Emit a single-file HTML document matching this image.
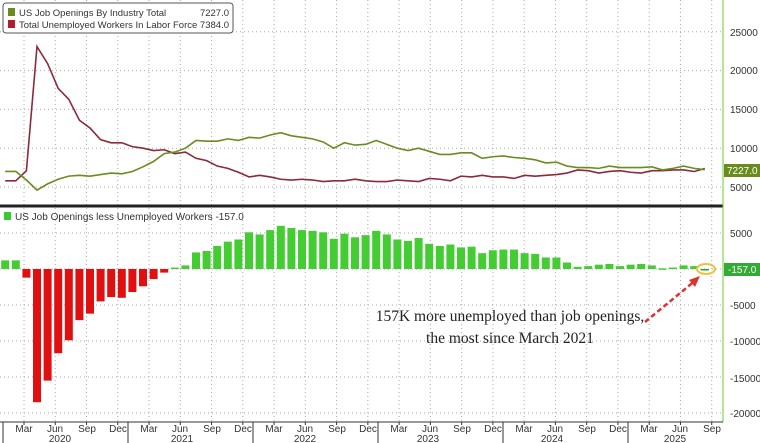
<!DOCTYPE html>
<html><head><style>
body{margin:0;background:#fff;}
svg{display:block;font-family:"Liberation Sans",sans-serif;}
</style></head><body>
<svg id="c" width="760" height="443" viewBox="0 0 760 443" xmlns="http://www.w3.org/2000/svg">
<rect width="760" height="443" fill="#fff"/>
<g id="grid" stroke="#aaa" stroke-width="1" stroke-dasharray="1,3"></g>
<g id="bars"></g>
<polyline id="lu" fill="none" stroke="#8b2a3a" stroke-width="1.6"/>
<polyline id="lo" fill="none" stroke="#6a8c1f" stroke-width="1.6"/>
<line x1="0" y1="206" x2="723" y2="206" stroke="#222" stroke-width="3"/>
<line x1="723" y1="0" x2="723" y2="422" stroke="#6c3" stroke-width="1"/>
<line x1="0" y1="422" x2="723" y2="422" stroke="#333" stroke-width="1"/>
<g font-size="10" fill="#333">
<text x="730" y="36">25000</text><text x="730" y="74">20000</text><text x="730" y="113">15000</text><text x="730" y="152">10000</text><text x="730" y="191">5000</text>
<text x="730" y="237">5000</text><text x="730" y="309">-5000</text><text x="730" y="345">-10000</text><text x="730" y="382">-15000</text><text x="730" y="417">-20000</text>
</g>
<rect x="724" y="164" width="36" height="13" fill="#6a8c1f"/>
<text x="727" y="174" font-size="10" fill="#fff">7227.0</text>
<rect x="724" y="263" width="36" height="13" fill="#3a3"/>
<text x="728" y="273" font-size="10" fill="#fff">-157.0</text>
<rect x="3" y="3" width="230" height="30" rx="3" fill="#fff" stroke="#555"/>
<rect x="8" y="8" width="7" height="8" fill="#6a8c1f"/><rect x="8" y="20" width="7" height="8" fill="#b01c2e"/>
<g font-size="9.5" fill="#333">
<text x="19" y="16">US Job Openings By Industry Total</text><text x="229" y="16" text-anchor="end">7227.0</text>
<text x="19" y="28">Total Unemployed Workers In Labor Force 7384.0</text>
<rect x="4" y="212" width="7" height="8" fill="#3c3"/>
<text x="15" y="220" font-size="10">US Job Openings less Unemployed Workers -157.0</text>
</g>
<ellipse cx="706" cy="269" rx="9" ry="5" fill="none" stroke="#f0c040" stroke-width="2"/>
<line x1="645" y1="322" x2="696" y2="280" stroke="#e03030" stroke-width="2.5" stroke-dasharray="5,3"/>
<polygon points="700,276 689,280 695,287" fill="#e03030"/>
<g font-family="Liberation Serif,serif" font-size="15.5" fill="#222" text-anchor="middle">
<text x="510" y="321">157K more unemployed than job openings,</text>
<text x="510" y="343">the most since March 2021</text>
</g>
<g font-size="10" fill="#333" text-anchor="middle">
<text x="24" y="432">Mar</text><text x="55" y="432">Jun</text><text x="87" y="432">Sep</text><text x="118" y="432">Dec</text>
<text x="149" y="432">Mar</text><text x="180" y="432">Jun</text><text x="212" y="432">Sep</text><text x="243" y="432">Dec</text>
<text x="274" y="432">Mar</text><text x="305" y="432">Jun</text><text x="337" y="432">Sep</text><text x="368" y="432">Dec</text>
<text x="399" y="432">Mar</text><text x="430" y="432">Jun</text><text x="462" y="432">Sep</text><text x="493" y="432">Dec</text>
<text x="524" y="432">Mar</text><text x="555" y="432">Jun</text><text x="587" y="432">Sep</text><text x="618" y="432">Dec</text>
<text x="649" y="432">Mar</text><text x="680" y="432">Jun</text><text x="712" y="432">Sep</text>
<text x="60" y="442">2020</text><text x="182" y="442">2021</text><text x="305" y="442">2022</text><text x="428" y="442">2023</text><text x="552" y="442">2024</text><text x="675" y="442">2025</text>
</g>
</svg>
<script>
var NS="http://www.w3.org/2000/svg";
function X(i){return 37+10.6*(i-3);}
function YT(v){return 187-(v-5000)*0.00776;}
function YB(v){return 269-v*0.0072;}
var o=[7000,7000,5900,4600,5400,6000,6400,6500,6400,6600,6800,6700,7000,7600,8300,9300,9500,10000,11000,10900,10900,11200,11000,11400,11300,11700,12000,11600,11400,11200,10800,10000,10700,10400,10500,11000,10500,10000,9700,10000,9600,9200,9200,9400,9400,8700,8900,9000,8800,8700,8500,8100,8200,7700,7500,7500,7400,7700,7500,7500,7500,7600,7200,7400,7700,7400,7227];
var u=[5800,5800,7100,23100,20900,17700,16300,13600,12600,11100,10700,10700,10200,10000,9700,9800,9300,9500,8700,8400,7700,7400,6900,6300,6500,6300,6000,5900,6000,5900,5700,5800,5800,6000,5800,5700,5700,5900,5800,5700,6100,6000,5800,6400,6300,6500,6300,6300,6100,6500,6400,6500,6600,6800,7200,7100,6800,7000,7100,6900,6800,7100,7100,7200,7200,7000,7384];
var g=document.getElementById("grid"),b=document.getElementById("bars");
function ln(x1,y1,x2,y2,p,s){var l=document.createElementNS(NS,"line");l.setAttribute("x1",x1);l.setAttribute("y1",y1);l.setAttribute("x2",x2);l.setAttribute("y2",y2);if(s)for(var k in s)l.setAttribute(k,s[k]);p.appendChild(l);}
for(var k=0;k<23;k++){var x=24+31.26*k;ln(x,0,x,422,g);}
[25000,20000,15000,10000,5000].forEach(function(v){ln(0,YT(v),723,YT(v),g);});
[5000,0,-5000,-10000,-15000,-20000].forEach(function(v){ln(0,YB(v),723,YB(v),g);});
var svg=document.getElementById("c");
for(var k=0;k<23;k++){var x=24+31.26*k;ln(x,422,x,425,svg,{stroke:"#333"});}
for(var y=0;y<6;y++){var x=3+125*y;ln(x,422,x,443,svg,{stroke:"#333"});}
var po=[],pu=[];
for(var i=0;i<o.length;i++){po.push(X(i)+","+YT(o[i]));pu.push(X(i)+","+YT(u[i]));
var d=(i==o.length-1)?-157:o[i]-u[i];var r=document.createElementNS(NS,"rect");
var y0=YB(0),y1=YB(d);r.setAttribute("x",X(i)-4);r.setAttribute("width",8);
r.setAttribute("y",Math.min(y0,y1));r.setAttribute("height",Math.max(1.5,Math.abs(y1-y0)));
r.setAttribute("fill",d<0?(i<20?"#e01010":"#2a2"):"#44cc33");b.appendChild(r);}
document.getElementById("lo").setAttribute("points",po.join(" "));
document.getElementById("lu").setAttribute("points",pu.join(" "));
</script>
</body></html>
